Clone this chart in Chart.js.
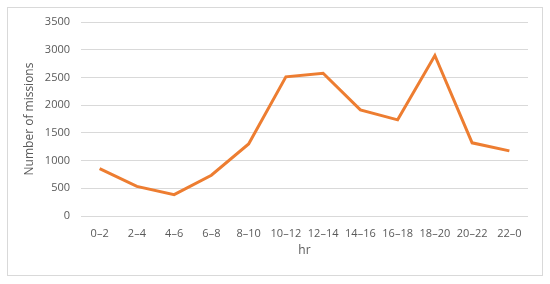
<!DOCTYPE html>
<html>
<head>
<meta charset="utf-8">
<script src="https://cdn.jsdelivr.net/npm/chart.js@4"></script>
<style>
  body { margin: 0; background: #fff; }
  #box { position: absolute; left: 7px; top: 7px; width: 534px; height: 267px; border: 1px solid #d9d9d9; }
</style>
</head>
<body>
<div id="box"><canvas id="missions-chart" width="534" height="267"></canvas></div>
<script>
// horas del dia (franjas de 2h)
const hours = ['0–2', '2–4', '4–6', '6–8', '8–10', '10–12', '12–14', '14–16', '16–18', '18–20', '20–22', '22–0']
// numero de misiones por franja
const missions = [855, 535, 385, 735, 1300, 2510, 2575, 1915, 1735, 2895, 1320, 1175]
const yTicks = [0, 500, 1000, 1500, 2000, 2500, 3000, 3500]

const grey = '#595959'
const fontFam = '"Open Sans", "Liberation Sans", sans-serif'

const ctx = document.getElementById('missions-chart').getContext('2d')
const myChart = new Chart(ctx, {
    type: 'line',
    data: {
        labels: hours,
        datasets: [{
            label: 'missions',
            data: missions,
            borderColor: '#ED7D31',
            borderWidth: 3,
            pointRadius: 0,
            tension: 0,
            fill: false
        }]
    },
    options: {
        responsive: false,
        animation: false,
        layout: { padding: { left: 14, right: 14, top: 14, bottom: 17 } },
        plugins: { legend: { display: false }, tooltip: { enabled: false } },
        scales: {
            x: {
                offset: true,
                grid: { display: false },
                border: { display: false },
                ticks: { color: grey, font: { family: fontFam, size: 11 }, maxRotation: 0, autoSkip: false, padding: 3 },
                title: { display: true, text: 'hr', color: grey, font: { family: fontFam, size: 12 }, padding: { top: 2, bottom: 0 } },
                afterFit: s => { s.height = 42; s.paddingLeft = 0; s.paddingRight = 0 }
            },
            y: {
                min: 0,
                max: 3500,
                afterBuildTicks: s => { s.ticks = yTicks.map(v => ({ value: v })) },
                grid: { color: '#d9d9d9', lineWidth: 1, drawTicks: false },
                border: { display: false },
                ticks: { color: grey, font: { family: fontFam, size: 11 }, padding: 11, callback: v => String(v) },
                title: { display: true, text: 'Number of missions', color: grey, font: { family: fontFam, size: 12 }, padding: 0 },
                afterFit: s => { s.width = 59; s.paddingTop = 0; s.paddingBottom = 0 }
            }
        }
    }
})
</script>
</body>
</html>
